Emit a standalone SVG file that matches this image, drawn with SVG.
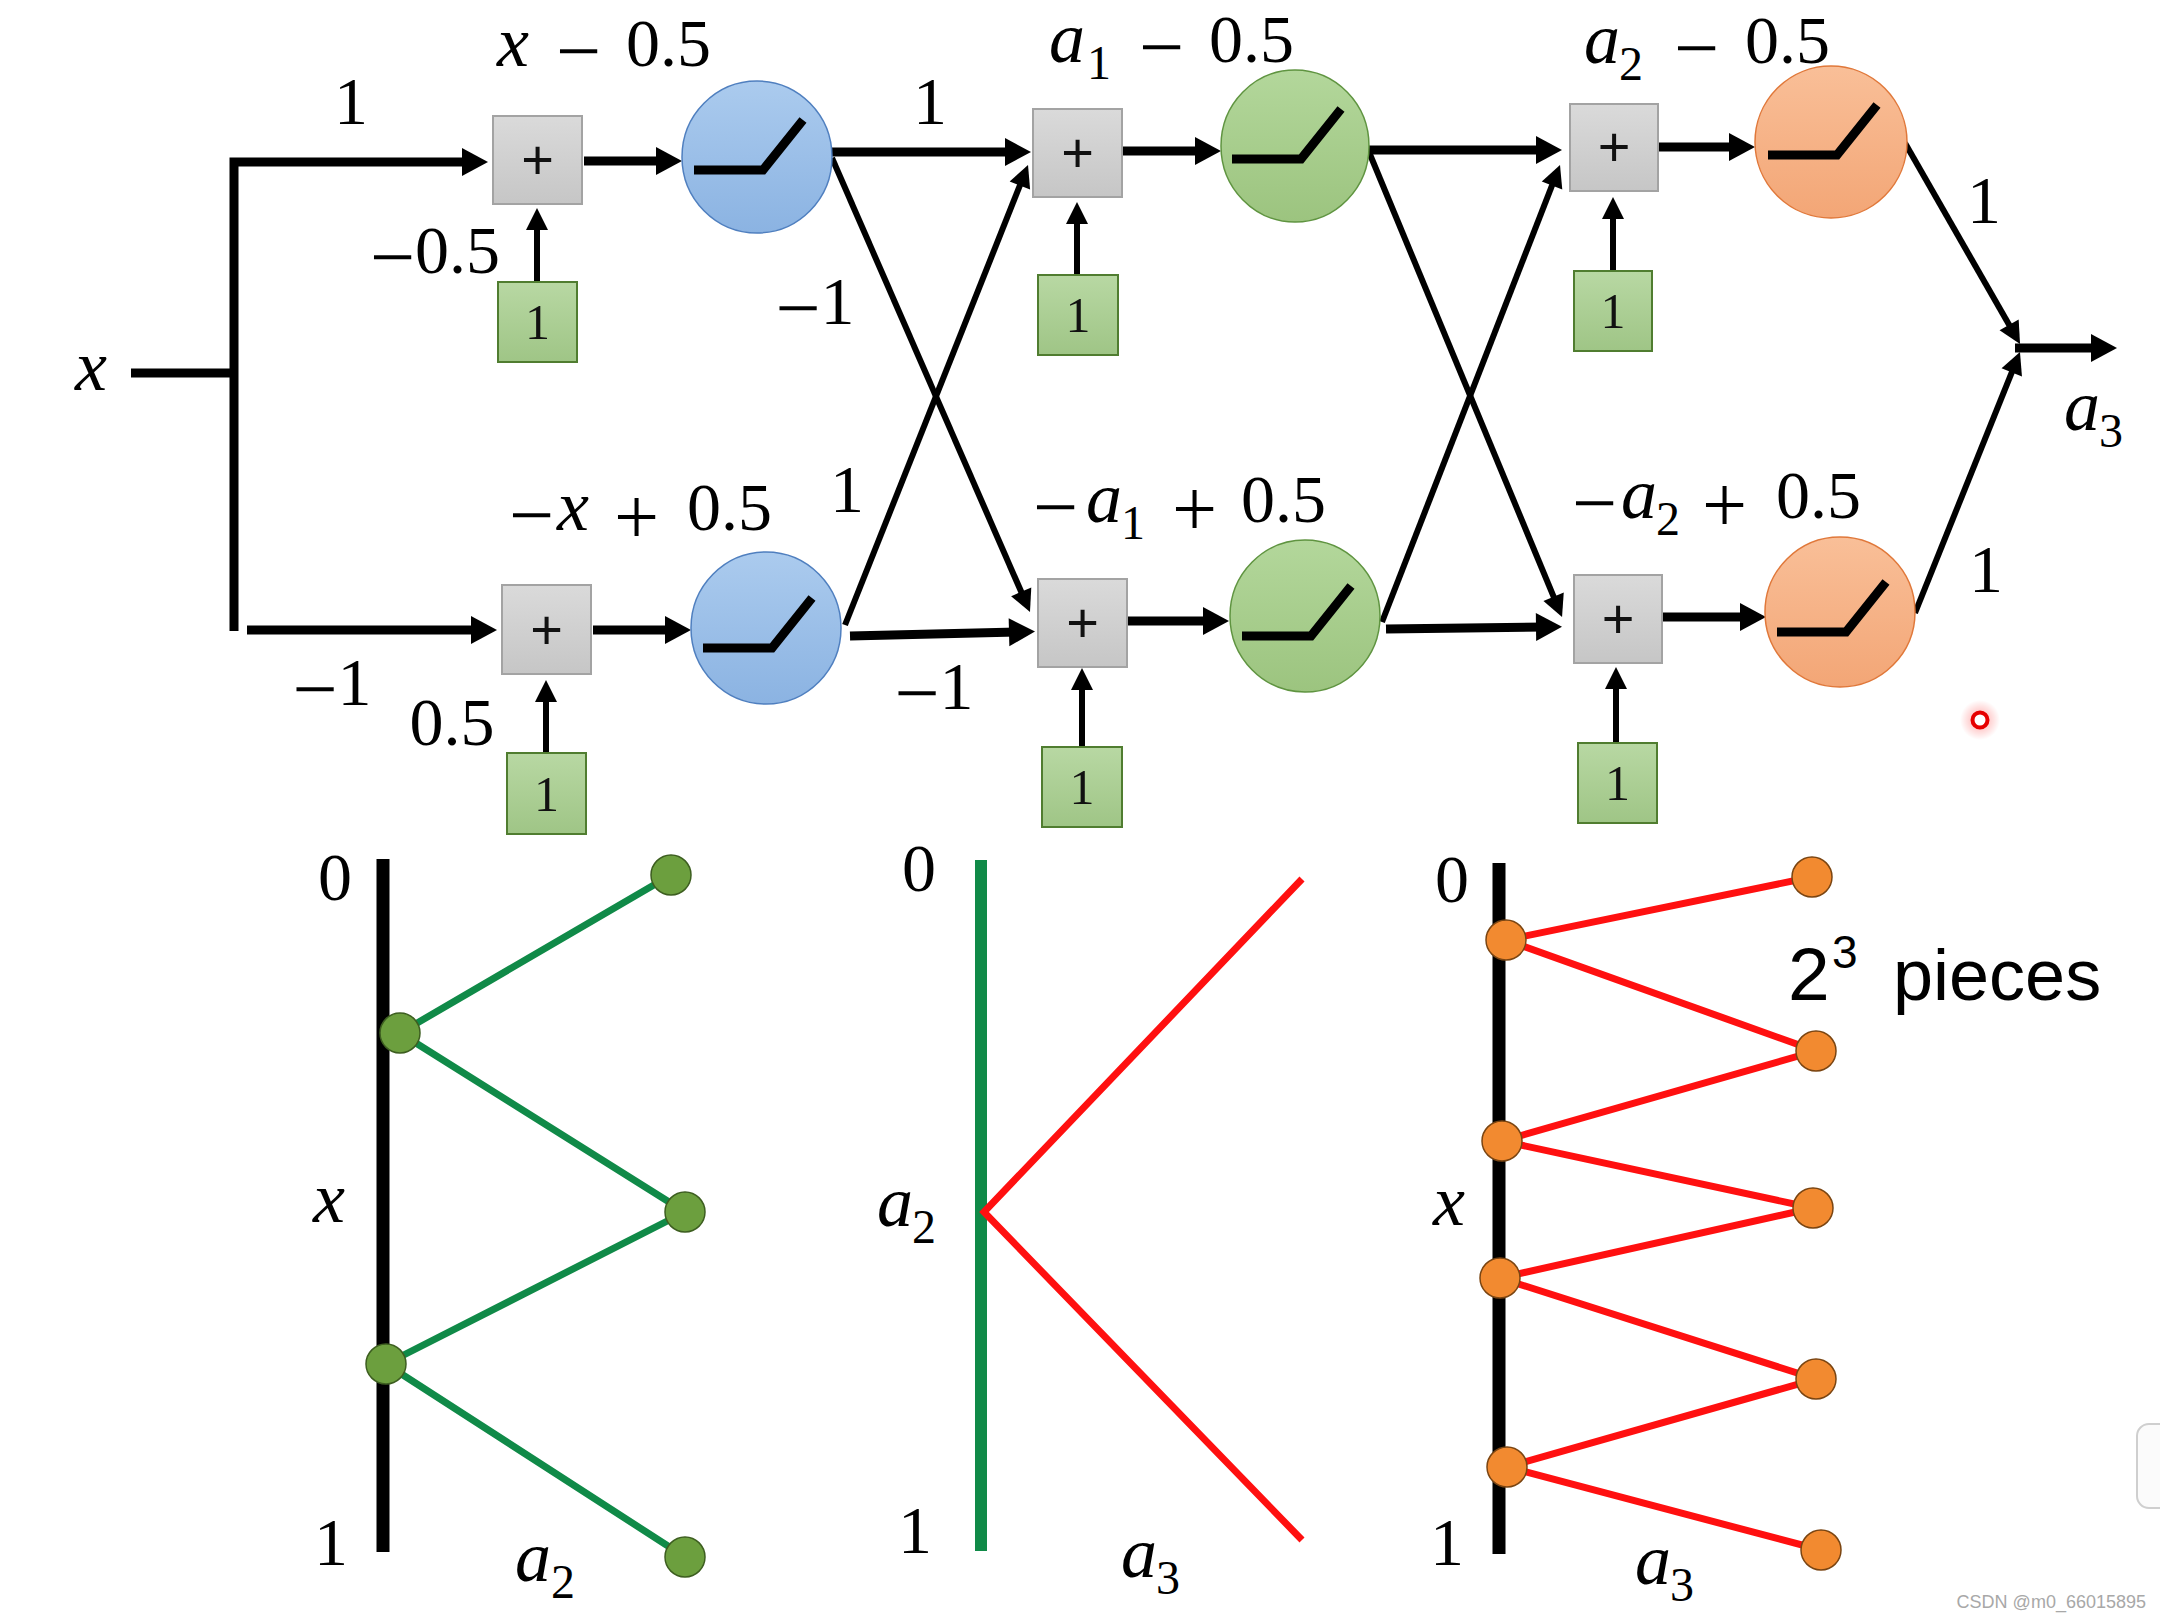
<svg xmlns="http://www.w3.org/2000/svg" xmlns:xlink="http://www.w3.org/1999/xlink" width="2160" height="1620" viewBox="0 0 2160 1620">
<style>
.lbl{font-family:"Liberation Serif","DejaVu Serif",serif;font-size:68px;fill:#000}
.it{font-style:italic;font-size:72px}
.op{font-size:80px}
.sub{font-size:48px}
.mid{text-anchor:middle}
.plus{font-family:"Liberation Sans",Arial,sans-serif;font-size:56px;text-anchor:middle;fill:#111}
.one{font-family:"Liberation Serif","DejaVu Serif",serif;font-size:50px;text-anchor:middle;fill:#111}
.box{fill:url(#gBox);stroke:#a3a3a3;stroke-width:2}
.bias{fill:url(#gBias);stroke:#507d30;stroke-width:2}
.blue{fill:url(#gBlue);stroke:#4f7fbf;stroke-width:1.5}
.green{fill:url(#gGreen);stroke:#5f9440;stroke-width:1.5}
.orange{fill:url(#gOrange);stroke:#e0783a;stroke-width:1.5}
.relu{fill:none;stroke:#000;stroke-width:9;stroke-linejoin:miter}
.thick{fill:none;stroke:#000;stroke-width:9;marker-end:url(#big)}
.thin{fill:none;stroke:#000;stroke-width:6;marker-end:url(#small)}
.plain{fill:none;stroke:#000;stroke-width:9}
.gline{fill:none;stroke:#108a48;stroke-width:7}
.rline{fill:none;stroke:#ff1010;stroke-width:7}
.gdot{fill:#6c9f3e;stroke:#3d5e20;stroke-width:1.5}
.odot{fill:#f28a30;stroke:#7a4512;stroke-width:1.5}
.pieces{font-family:"Liberation Sans",Arial,sans-serif;fill:#000}
</style>
<defs>
<marker id="big" markerUnits="userSpaceOnUse" markerWidth="26" markerHeight="28" refX="8" refY="14" orient="auto" overflow="visible"><path d="M0,0 L26,14 L0,28 z" fill="#000"/></marker>
<marker id="small" markerUnits="userSpaceOnUse" markerWidth="22" markerHeight="22" refX="6" refY="11" orient="auto" overflow="visible"><path d="M0,0 L22,11 L0,22 z" fill="#000"/></marker>
<linearGradient id="gBox" x1="0" y1="0" x2="0" y2="1"><stop offset="0" stop-color="#dadada"/><stop offset="1" stop-color="#c6c6c6"/></linearGradient>
<linearGradient id="gBias" x1="0" y1="0" x2="0" y2="1"><stop offset="0" stop-color="#b8d8a3"/><stop offset="1" stop-color="#9fc586"/></linearGradient>
<linearGradient id="gBlue" x1="0" y1="0" x2="0" y2="1"><stop offset="0" stop-color="#abcbee"/><stop offset="1" stop-color="#8bb3e2"/></linearGradient>
<linearGradient id="gGreen" x1="0" y1="0" x2="0" y2="1"><stop offset="0" stop-color="#b3d79b"/><stop offset="1" stop-color="#9cc47f"/></linearGradient>
<linearGradient id="gOrange" x1="0" y1="0" x2="0" y2="1"><stop offset="0" stop-color="#f9bf98"/><stop offset="1" stop-color="#f3a676"/></linearGradient>
<radialGradient id="gGlow"><stop offset="0" stop-color="#ff0000" stop-opacity="0.35"/><stop offset="1" stop-color="#ff0000" stop-opacity="0"/></radialGradient>
<path id="relu" d="M-63,13 H6 L46,-37"/>
</defs>
<rect width="2160" height="1620" fill="#fff"/>

<!-- connectors -->
<g id="connectors">
  <path class="plain" d="M131,373 H234"/>
  <path class="thick" d="M234,631 V162 H470"/>
  <path class="thick" d="M247,630 H479"/>
  <path class="thick" d="M584,161 H664"/>
  <path class="thick" d="M593,630 H673"/>
  <path class="thin" d="M537,282 V224"/>
  <path class="thin" d="M546,753 V696"/>
  <path class="thick" d="M832,152 H1013"/>
  <path class="thin" d="M832,158 L1023.6,597.3"/>
  <path class="thin" d="M845,625 L1022.1,179.9"/>
  <path class="thick" d="M850,636 L1017,632"/>
  <path class="thick" d="M1122,151 H1203"/>
  <path class="thick" d="M1127,621 H1211"/>
  <path class="thin" d="M1077,275 V218"/>
  <path class="thin" d="M1082,747 V684"/>
  <path class="thick" d="M1369,150 H1544"/>
  <path class="thin" d="M1369,152 L1555.9,602.2"/>
  <path class="thin" d="M1382,622 L1554.2,179.9"/>
  <path class="thick" d="M1386,629 L1544,627"/>
  <path class="thick" d="M1658,147 H1737"/>
  <path class="thick" d="M1662,617 H1748"/>
  <path class="thin" d="M1613,271 V213"/>
  <path class="thin" d="M1616,743 V683"/>
  <path class="thin" d="M1905,143 L2012.1,330.1"/>
  <path class="thin" d="M1915,613 L2014,366.8"/>
  <path class="thick" d="M2015,348 H2099"/>
</g>

<!-- layer 1 -->
<g id="sum1a"><rect class="box" x="493" y="116" width="89" height="88"/><text class="plus" x="537.5" y="179">+</text></g>
<g id="sum1b"><rect class="box" x="502" y="585" width="89" height="89"/><text class="plus" x="546.5" y="649">+</text></g>
<g id="bias1a"><rect class="bias" x="498" y="282" width="79" height="80"/><text class="one" x="537.5" y="339">1</text></g>
<g id="bias1b"><rect class="bias" x="507" y="753" width="79" height="81"/><text class="one" x="546.5" y="811">1</text></g>
<g id="relu1a"><ellipse class="blue" cx="757" cy="157" rx="75" ry="76"/><use xlink:href="#relu" href="#relu" class="relu" x="757" y="157"/></g>
<g id="relu1b"><ellipse class="blue" cx="766" cy="628" rx="75" ry="76"/><use xlink:href="#relu" href="#relu" class="relu" x="766" y="635"/></g>

<!-- layer 2 -->
<g id="sum2a"><rect class="box" x="1033" y="109" width="89" height="88"/><text class="plus" x="1077.5" y="172">+</text></g>
<g id="sum2b"><rect class="box" x="1038" y="579" width="89" height="88"/><text class="plus" x="1082.5" y="642">+</text></g>
<g id="bias2a"><rect class="bias" x="1038" y="275" width="80" height="80"/><text class="one" x="1078" y="332">1</text></g>
<g id="bias2b"><rect class="bias" x="1042" y="747" width="80" height="80"/><text class="one" x="1082" y="804">1</text></g>
<g id="relu2a"><ellipse class="green" cx="1295" cy="146" rx="74" ry="76"/><use xlink:href="#relu" href="#relu" class="relu" x="1295" y="146"/></g>
<g id="relu2b"><ellipse class="green" cx="1305" cy="616" rx="75" ry="76"/><use xlink:href="#relu" href="#relu" class="relu" x="1305" y="623"/></g>

<!-- layer 3 -->
<g id="sum3a"><rect class="box" x="1570" y="104" width="88" height="87"/><text class="plus" x="1614" y="166">+</text></g>
<g id="sum3b"><rect class="box" x="1574" y="575" width="88" height="88"/><text class="plus" x="1618" y="638">+</text></g>
<g id="bias3a"><rect class="bias" x="1574" y="271" width="78" height="80"/><text class="one" x="1613" y="328">1</text></g>
<g id="bias3b"><rect class="bias" x="1578" y="743" width="79" height="80"/><text class="one" x="1617.5" y="800">1</text></g>
<g id="relu3a"><ellipse class="orange" cx="1831" cy="142" rx="76" ry="76"/><use xlink:href="#relu" href="#relu" class="relu" x="1831" y="142"/></g>
<g id="relu3b"><ellipse class="orange" cx="1840" cy="612" rx="75" ry="75"/><use xlink:href="#relu" href="#relu" class="relu" x="1840" y="619"/></g>

<!-- labels -->
<g id="labels" class="lbl">
  <text class="it mid" x="91" y="390">x</text>
  <text class="mid" x="351" y="124">1</text>
  <text class="mid" x="332" y="705"><tspan class="op" dy="11">−</tspan><tspan dy="-11">1</tspan></text>
  <text class="mid" x="435" y="273"><tspan class="op" dy="11">−</tspan><tspan dy="-11">0.5</tspan></text>
  <text class="mid" x="452" y="745">0.5</text>
  <text class="mid" x="930" y="124">1</text>
  <text class="mid" x="815" y="324"><tspan class="op" dy="11">−</tspan><tspan dy="-11">1</tspan></text>
  <text class="mid" x="847" y="512">1</text>
  <text class="mid" x="934" y="709"><tspan class="op" dy="11">−</tspan><tspan dy="-11">1</tspan></text>
  <text class="mid" x="1984" y="223">1</text>
  <text class="mid" x="1986" y="592">1</text>
  <text><tspan class="it" x="497" y="66">x</tspan><tspan class="op" x="556" y="78">−</tspan><tspan x="626" y="66">0.5</tspan></text>
  <text><tspan class="op" x="509" y="542">−</tspan><tspan class="it" x="557" y="530">x</tspan><tspan class="op" x="614" y="544">+</tspan><tspan x="687" y="530">0.5</tspan></text>
  <text><tspan class="it" x="1049" y="62">a</tspan><tspan class="sub" x="1087" y="79">1</tspan><tspan class="op" x="1139" y="74">−</tspan><tspan x="1209" y="62">0.5</tspan></text>
  <text><tspan class="op" x="1033" y="534">−</tspan><tspan class="it" x="1086" y="522">a</tspan><tspan class="sub" x="1121" y="539">1</tspan><tspan class="op" x="1172" y="536">+</tspan><tspan x="1241" y="522">0.5</tspan></text>
  <text><tspan class="it" x="1584" y="63">a</tspan><tspan class="sub" x="1619" y="80">2</tspan><tspan class="op" x="1674" y="75">−</tspan><tspan x="1745" y="63">0.5</tspan></text>
  <text><tspan class="op" x="1572" y="530">−</tspan><tspan class="it" x="1621" y="518">a</tspan><tspan class="sub" x="1656" y="535">2</tspan><tspan class="op" x="1702" y="532">+</tspan><tspan x="1776" y="518">0.5</tspan></text>
  <text><tspan class="it" x="2064" y="430">a</tspan><tspan class="sub" x="2099" y="447">3</tspan></text>
</g>

<!-- laser pointer mark -->
<g id="pointer"><circle cx="1980" cy="720" r="20" fill="url(#gGlow)"/><circle cx="1980" cy="720" r="7.5" fill="#fff" stroke="#e60000" stroke-width="4"/></g>

<!-- bottom panel 1 -->
<g id="panel1">
  <path d="M383,859 V1552" stroke="#000" stroke-width="13" fill="none"/>
  <polyline class="gline" points="671,875 400,1033 685,1212 386,1364 685,1557"/>
  <circle class="gdot" cx="671" cy="875" r="20"/>
  <circle class="gdot" cx="400" cy="1033" r="20"/>
  <circle class="gdot" cx="685" cy="1212" r="20"/>
  <circle class="gdot" cx="386" cy="1364" r="20"/>
  <circle class="gdot" cx="685" cy="1557" r="20"/>
  <g class="lbl">
    <text class="mid" x="335" y="900">0</text>
    <text class="mid" x="331" y="1565">1</text>
    <text class="it mid" x="329" y="1222">x</text>
    <text><tspan class="it" x="515" y="1581">a</tspan><tspan class="sub" x="551" y="1598">2</tspan></text>
  </g>
</g>

<!-- bottom panel 2 -->
<g id="panel2">
  <path d="M981,860 V1551" stroke="#108a48" stroke-width="12" fill="none"/>
  <polyline class="rline" points="1302,879 984,1212 1302,1540"/>
  <g class="lbl">
    <text class="mid" x="919" y="891">0</text>
    <text class="mid" x="915" y="1553">1</text>
    <text><tspan class="it" x="877" y="1226">a</tspan><tspan class="sub" x="912" y="1243">2</tspan></text>
    <text><tspan class="it" x="1121" y="1577">a</tspan><tspan class="sub" x="1156" y="1594">3</tspan></text>
  </g>
</g>

<!-- bottom panel 3 -->
<g id="panel3">
  <path d="M1499,863 V1554" stroke="#000" stroke-width="13" fill="none"/>
  <polyline class="rline" points="1812,877 1506,940 1816,1051 1502,1141 1813,1208 1500,1278 1816,1379 1507,1467 1821,1550"/>
  <circle class="odot" cx="1812" cy="877" r="20"/>
  <circle class="odot" cx="1816" cy="1051" r="20"/>
  <circle class="odot" cx="1813" cy="1208" r="20"/>
  <circle class="odot" cx="1816" cy="1379" r="20"/>
  <circle class="odot" cx="1821" cy="1550" r="20"/>
  <circle class="odot" cx="1506" cy="940" r="20"/>
  <circle class="odot" cx="1502" cy="1141" r="20"/>
  <circle class="odot" cx="1500" cy="1278" r="20"/>
  <circle class="odot" cx="1507" cy="1467" r="20"/>
  <g class="lbl">
    <text class="mid" x="1452" y="902">0</text>
    <text class="mid" x="1447" y="1565">1</text>
    <text class="it mid" x="1449" y="1225">x</text>
    <text><tspan class="it" x="1635" y="1584">a</tspan><tspan class="sub" x="1670" y="1601">3</tspan></text>
  </g>
  <text class="pieces"><tspan x="1788" y="1000" font-size="75">2</tspan><tspan x="1832" y="968" font-size="46">3</tspan><tspan x="1893" y="1000" font-size="72">pieces</tspan></text>
</g>

<!-- screen artifacts -->
<rect x="2137" y="1424" width="44" height="84" rx="12" fill="#fbfbfb" stroke="#cfcfcf" stroke-width="2"/>
<text x="2146" y="1608" font-family="'Liberation Sans',Arial,sans-serif" font-size="18" fill="#a8a8a8" text-anchor="end">CSDN @m0_66015895</text>
</svg>
